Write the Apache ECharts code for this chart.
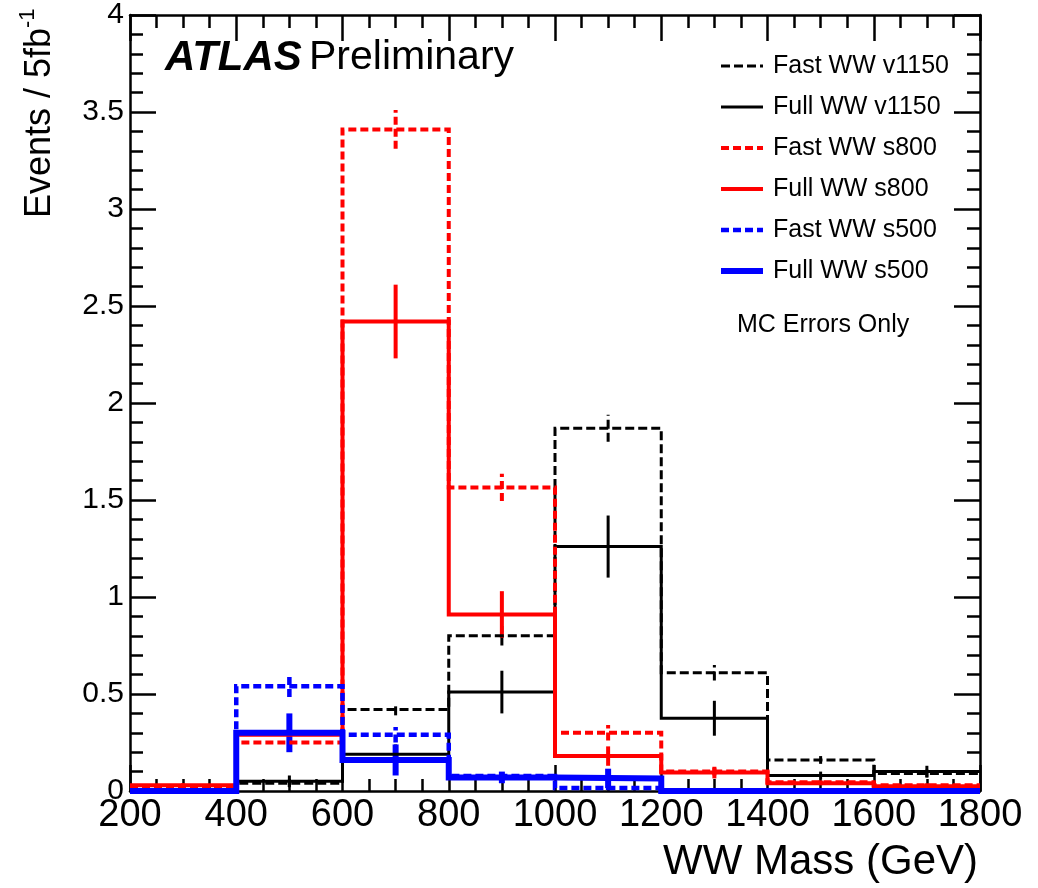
<!DOCTYPE html>
<html>
<head>
<meta charset="utf-8">
<title>WW Mass</title>
<script src="https://cdn.jsdelivr.net/npm/echarts@6/dist/echarts.min.js"></script>
<style>
  html, body { margin: 0; padding: 0; background: #fff; }
  #ec { width: 1038px; height: 888px; }
</style>
</head>
<body>
<div id="ec"></div>
<script>
// bin edges of the WW mass histogram (GeV)
var binEdges = [200, 400, 600, 800, 1000, 1200, 1400, 1600, 1800];

// events per bin
var fastV1150 = [0, 0.04, 0.42, 0.80, 1.87, 0.61, 0.16, 0.09];
var fullV1150 = [0, 0.05, 0.19, 0.51, 1.26, 0.375, 0.08, 0.10];
var fastS800  = [0.02, 0.25, 3.41, 1.565, 0.30, 0.10, 0.045, 0.03];
var fullS800  = [0.03, 0.29, 2.42, 0.91, 0.18, 0.095, 0.04, 0.025];
var fastS500  = [0, 0.54, 0.29, 0.077, 0.015, 0, 0, 0];
var fullS500  = [0, 0.30, 0.16, 0.07, 0.065, 0, 0, 0];

// MC errors per bin
var errFastV1150 = [0, 0.02, 0.03, 0.05, 0.07, 0.04, 0.02, 0.02];
var errFullV1150 = [0, 0.03, 0.05, 0.11, 0.16, 0.09, 0.02, 0.03];
var errFastS800  = [0.01, 0.03, 0.10, 0.07, 0.04, 0.02, 0.01, 0.01];
var errFullS800  = [0.01, 0.04, 0.19, 0.12, 0.05, 0.03, 0.01, 0.01];
var errFastS500  = [0, 0.055, 0.04, 0.02, 0.01, 0, 0, 0];
var errFullS500  = [0, 0.10, 0.08, 0.03, 0.05, 0, 0, 0];

var seriesNames = ['Fast WW v1150', 'Full WW v1150', 'Fast WW s800', 'Full WW s800', 'Fast WW s500', 'Full WW s500'];
var seriesValues = [fastV1150, fullV1150, fastS800, fullS800, fastS500, fullS500];
var seriesErrors = [errFastV1150, errFullV1150, errFastS800, errFullS800, errFastS500, errFullS500];

var yTitle = 'Events / 5fb';
var yTitleSup = '-1';
var xTitle = 'WW Mass (GeV)';
var note = 'MC Errors Only';

var FONT = '"Liberation Sans", Arial, Helvetica, sans-serif';

// line looks, same order as seriesNames
var looks = [
    { color: '#000000', width: 3, dash: [9, 4] },
    { color: '#000000', width: 3, dash: null },
    { color: '#ff0000', width: 4, dash: [8, 4] },
    { color: '#ff0000', width: 4, dash: null },
    { color: '#0000ff', width: 4.5, dash: [8, 4] },
    { color: '#0000ff', width: 6, dash: null }
];

function stepPoints(vals) {
    var pts = [];
    for (var i = 0; i < vals.length; i++) {
        pts.push([binEdges[i], vals[i]]);
    }
    pts.push([binEdges[vals.length], vals[vals.length - 1]]);
    return pts;
}

function errPoints(vals, errs) {
    return vals.map(function (v, i) {
        return [(binEdges[i] + binEdges[i + 1]) / 2, v, errs[i]];
    });
}

var series = [];
seriesNames.forEach(function (name, k) {
    var lk = looks[k];
    series.push({
        name: name,
        type: 'line',
        step: 'end',
        xAxisIndex: 0,
        yAxisIndex: 0,
        data: stepPoints(seriesValues[k]),
        symbol: 'none',
        clip: false,
        lineStyle: { color: lk.color, width: lk.width, type: lk.dash || 'solid', cap: 'butt', join: 'miter' },
        silent: true
    });
    series.push({
        name: name + ' err',
        type: 'custom',
        xAxisIndex: 0,
        yAxisIndex: 0,
        data: errPoints(seriesValues[k], seriesErrors[k]),
        encode: { x: 0, y: 1 },
        silent: true,
        renderItem: function (params, api) {
            var c = api.value(0), v = api.value(1), e = api.value(2);
            if (!e) return;
            var p1 = api.coord([c, v - e]);
            var p2 = api.coord([c, v + e]);
            return {
                type: 'line',
                shape: { x1: p1[0], y1: p1[1], x2: p2[0], y2: p2[1] },
                style: { stroke: lk.color, lineWidth: lk.width, lineDash: lk.dash }
            };
        }
    });
});

// legend drawn by hand so dashed line samples match ROOT style
var legendItems = [];
var legendTop = 66, legendStep = 41;
seriesNames.forEach(function (name, k) {
    var lk = looks[k];
    var y = legendTop + k * legendStep;
    legendItems.push({
        type: 'line',
        shape: { x1: 721, y1: y, x2: 763, y2: y },
        style: { stroke: lk.color, lineWidth: lk.width, lineDash: lk.dash },
        z: 10
    });
    legendItems.push({
        type: 'text',
        x: 773, y: y,
        style: { text: name, font: '25px ' + FONT, fill: '#000', align: 'left', verticalAlign: 'middle' },
        z: 10
    });
});

var axisCommon = {
    axisLine: { show: true, onZero: false, lineStyle: { color: '#000', width: 2.5 } },
    axisTick: { show: true, inside: true, length: 26, lineStyle: { color: '#000', width: 2.5 } },
    minorTick: { show: true, length: 13, lineStyle: { color: '#000', width: 2.5 } },
    splitLine: { show: false }
};

function plainNum(v) { return String(v); }

var myChart = echarts.init(document.getElementById('ec'));

var option = {
    animation: false,
    backgroundColor: '#fff',
    grid: { left: 130, right: 58, top: 15, bottom: 97, containLabel: false },
    xAxis: [
        Object.assign({
            type: 'value', position: 'bottom', min: 200, max: 1800, interval: 200,
            axisLabel: { show: true, margin: 6, color: '#000', fontSize: 38, fontFamily: FONT, formatter: plainNum }
        }, axisCommon, {
            minorTick: { show: true, splitNumber: 4, length: 12, lineStyle: { color: '#000', width: 2.5 } }
        }),
        Object.assign({
            type: 'value', position: 'top', min: 200, max: 1800, interval: 200,
            axisLabel: { show: false }
        }, axisCommon, {
            minorTick: { show: true, splitNumber: 4, length: 13, lineStyle: { color: '#000', width: 2.5 } }
        })
    ],
    yAxis: [
        Object.assign({
            type: 'value', position: 'left', min: 0, max: 4, interval: 0.5,
            axisLabel: { show: true, margin: 6, color: '#000', fontSize: 30, fontFamily: FONT, formatter: plainNum }
        }, axisCommon, {
            minorTick: { show: true, splitNumber: 5, length: 13, lineStyle: { color: '#000', width: 2.5 } }
        }),
        Object.assign({
            type: 'value', position: 'right', min: 0, max: 4, interval: 0.5,
            axisLabel: { show: false }
        }, axisCommon, {
            minorTick: { show: true, splitNumber: 5, length: 13, lineStyle: { color: '#000', width: 2.5 } }
        })
    ],
    series: series,
    graphic: [
        {
            type: 'text', x: 165, y: 58,
            style: { text: 'ATLAS', font: 'italic bold 42px ' + FONT, fill: '#000', verticalAlign: 'middle' }
        },
        {
            type: 'text', x: 309, y: 58,
            style: { text: 'Preliminary', font: '41px ' + FONT, fill: '#000', verticalAlign: 'middle' }
        },
        {
            type: 'text', x: 737, y: 325,
            style: { text: note, font: '25px ' + FONT, fill: '#000', verticalAlign: 'middle' }
        },
        {
            type: 'text', x: 40, y: 218, rotation: Math.PI / 2,
            style: { text: yTitle, font: '36px ' + FONT, fill: '#000', align: 'left', verticalAlign: 'middle' }
        },
        {
            type: 'text', x: 28, y: 28, rotation: Math.PI / 2,
            style: { text: yTitleSup, font: '22px ' + FONT, fill: '#000', align: 'left', verticalAlign: 'middle' }
        },
        {
            type: 'text', x: 978, y: 862,
            style: { text: xTitle, font: '42px ' + FONT, fill: '#000', align: 'right', verticalAlign: 'middle' }
        }
    ].concat(legendItems)
};

myChart.setOption(option);
</script>
</body>
</html>
